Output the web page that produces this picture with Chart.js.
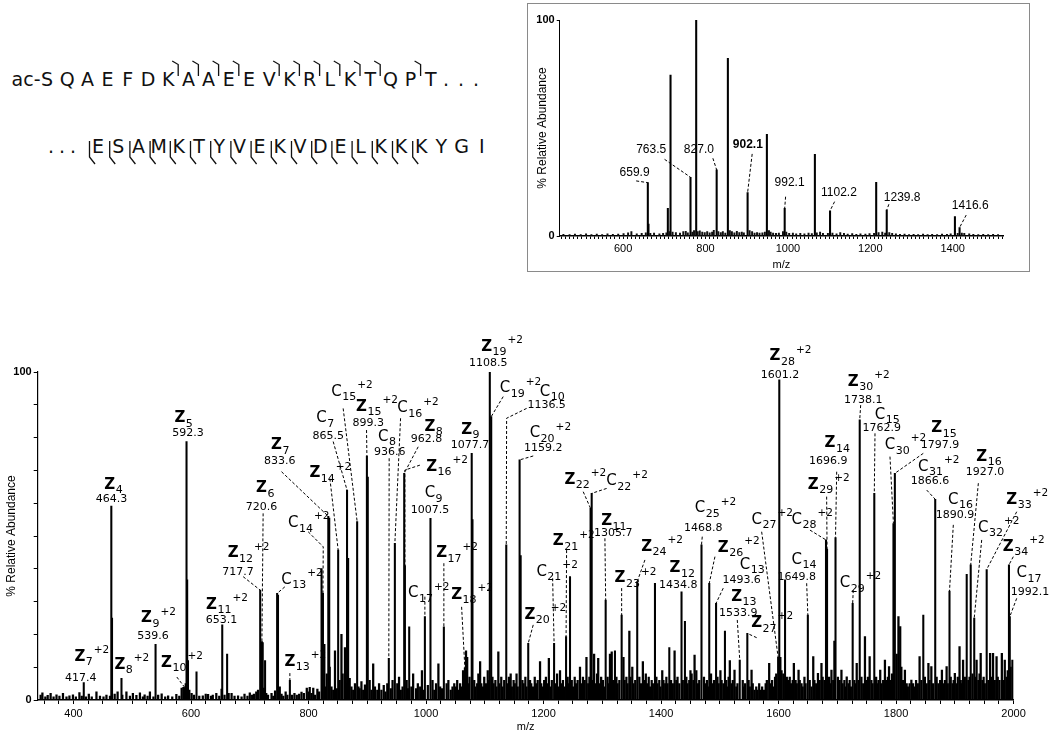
<!DOCTYPE html>
<html><head><meta charset="utf-8">
<script src="https://cdn.jsdelivr.net/npm/chart.js@4.4.1/dist/chart.umd.min.js"></script>
<style>
html,body{margin:0;padding:0;background:#fff;width:1050px;height:736px;overflow:hidden;position:relative;}
#seq{position:absolute;left:0;top:0;width:520px;height:190px;}
#insetBox{position:absolute;left:527px;top:3px;width:503px;height:269px;border:1px solid #8a8a8a;box-sizing:border-box;}
#inset{position:absolute;left:527px;top:3px;}
#main{position:absolute;left:0;top:300px;}
</style></head>
<body>
<svg id="seq" xmlns="http://www.w3.org/2000/svg" width="520" height="190"></svg>
<div id="insetBox"></div>
<canvas id="inset" width="503" height="269"></canvas>
<canvas id="main" width="1050" height="436"></canvas>
<script>
// ---------------- sequence ----------------
const seqLine1 = ['S','Q','A','E','F','D','K','A','A','E','E','V','K','R','L','K','T','Q','P','T'];
const seqLine2 = ['E','S','A','M','K','T','Y','V','E','K','V','D','E','L','K','K','K','Y','G','I'];
const cMarksBefore = [7,8,9,10,12,13,14,15,16,17,19];
const zMarksBefore = [0,1,2,3,4,5,6,7,8,9,10,11,12,13,14,15,16];

// ---------------- inset spectrum ----------------
const insetTickLabels = [600,800,1000,1200,1400];
const mzInset  = [659.9,661.5,708.5,715,763.5,777.3,827,854.2,902.1,948.9,992.1,1065.4,1102.2,1214.2,1239.8,1405.3,1416.6];
const intInset = [24.7,5.5,12.8,74.5,27.2,100,30.6,82.3,20.1,47.1,12.8,37.8,11.7,24.8,12,9,3.9];
const insetNoise = [[455,0.8],[470,0.6],[483,0.9],[497,0.7],[510,1],[523,0.6],[536,0.9],[549,0.7],[562,1],[575,0.8],[588,0.9],[601,1.1],[612,1.5],[620,2],[633,1],[645,1.2],[655,1.5],[666,1.2],[675,1.4],[688,1],[697,1.2],[705,1.5],[712,2],[720,1.8],[728,1.6],[738,1.4],[746,2],[752,2.2],[757,1.5],[768,1.8],[772,2.5],[781,2],[786,2.4],[792,1.8],[798,1.6],[804,2],[810,1.5],[816,1.8],[820,2.6],[831,2],[837,1.6],[842,2],[848,1.4],[859,2.5],[864,2],[870,1.5],[876,2.2],[882,1.6],[888,1.8],[893,1.5],[907,2.5],[913,2],[919,1.4],[925,1.6],[931,1.4],[938,1.5],[944,1.8],[954,2.5],[958,1.8],[964,1.4],[971,1.2],[978,1.4],[988,2],[996,1.8],[1003,1.2],[1012,1.4],[1020,1],[1030,1.2],[1040,1],[1050,1.3],[1058,1.1],[1070,1.5],[1078,1.8],[1085,1.2],[1097,1.2],[1108,1.4],[1118,1],[1127,1.6],[1136,1.2],[1145,0.9],[1156,1.1],[1166,0.8],[1176,1],[1188,0.9],[1198,1.1],[1209,1.2],[1220,1.6],[1229,1.8],[1236,1.4],[1246,1.6],[1253,1.2],[1262,1],[1272,0.8],[1283,0.9],[1294,0.7],[1305,0.8],[1316,0.7],[1328,0.9],[1339,0.7],[1350,0.8],[1362,0.7],[1374,0.9],[1386,0.8],[1395,1],[1412,1.2],[1422,1.4],[1428,1.2],[1440,1],[1450,0.8],[1462,0.7],[1474,0.8],[1486,0.7],[1498,0.8],[1510,0.6]];
const insetLabels = [
 {v:'659.9', n:[627.7,29.3], l:[[631.6,25.5]], p:659.9},
 {v:'763.5', n:[668,40.1], l:[[700.5,35.5]], p:763.5},
 {v:'827.0', n:[783.8,40.1], l:[[817.8,36]], p:827},
 {v:'902.1', n:[902.7,42.1], l:[[913.2,38]], p:902.1, bold:true},
 {v:'992.1', n:[1004,24.7], l:[[994.3,18.2]], p:992.1},
 {v:'1102.2', n:[1123.7,20], l:[[1113.2,15.9]], p:1102.2},
 {v:'1239.8', n:[1277.3,17.9], l:[[1245,14.7]], p:1239.8},
 {v:'1416.6', n:[1442.4,14], l:[[1432.7,9.7]], p:1416.6}
];

// ---------------- main spectrum ----------------
const xTickLabels = [400,600,800,1000,1200,1400,1600,1800,2000];
const yTickLabels = [0,100];
const mzMain = [417.4,464.3,465.5,481.6,539.6,589.4,592.3,593.4,594.8,609.3,653.1,661.4,717.7,720.6,722,726,746.5,748,768.2,822.1,824.5,827,833.6,835.2,850.4,865.5,867.4,882.7,899.3,900.8,936.6,946.9,962.8,964,971.3,998,1007.5,1030.3,1066,1077.7,1079,1108.5,1110.9,1136.5,1159.2,1161,1173.9,1217.9,1238.3,1245,1280,1281.9,1305.7,1321.5,1332.9,1359.4,1389.6,1414,1434.8,1440.6,1468.8,1482,1493.6,1508.7,1533.9,1546.8,1599.2,1601.2,1611,1649.8,1680.7,1682.5,1696.9,1726.1,1738.1,1762.9,1795.5,1797.9,1846.3,1866.6,1890.9,1920.2,1927,1933,1954.2,1992.1,1993.5];
const intMain = [5.3,59.1,25,6.6,17,3.8,78.8,36.6,12,8.6,22.9,14,33.5,17.8,17.5,12,32.5,32,6,40.1,32.5,17,56,55.5,45.7,64,43.2,54.4,74.4,68,12.7,47.8,69.1,41,22.3,25.4,55.4,22.3,9.8,75.2,55,100,86.4,47.3,73.2,44,17.3,17.3,19.3,37.6,58.4,63,30.5,15,25.9,36.1,35.6,16,33,24,47.3,35.6,29.5,21,12.2,20.3,13,97.6,36.6,25.9,48.8,46,49.5,29.5,85.4,63,53.8,69.1,25.9,61.2,33.2,38.3,41.2,25,39.8,41.2,25.4];
const noisePeaks = [[344,1.5],[347,2.2],[352,1],[356,1.4],[361,2],[366,1],[371,1.6],[376,1.2],[382,2],[388,1],[393,1.3],[399,1.6],[404,1],[410,2.3],[414,1.2],[421,1],[426,1.8],[431,1],[439,2.5],[445,1.2],[451,1],[456,1.5],[462,1.2],[470,1.8],[475,2.5],[483,1.5],[490,2.5],[496,1.2],[501,2],[507,1.4],[513,2.2],[518,1],[521,1.6],[526,1.2],[530,2.5],[536,1],[544,1.5],[550,1.9],[556,1],[561,1.3],[568,1],[575,1.7],[580,1.2],[584,3.6],[587,3.9],[591,5],[597,3],[601,2],[605,1.5],[614,1.2],[620,1.3],[625,1.8],[629,1.7],[634,1.2],[637,1.5],[643,2],[648,1.2],[652,3.3],[657,1.5],[664,2],[669,2],[674,1.2],[680,1.3],[686,1],[691,1.8],[696,1.2],[700,2.2],[704,1.5],[707,1.8],[711,2.5],[714,3],
[724,3.6],[728,2],[731,1.5],[737,2],[740,1.2],[743,2.8],[751,4],[754,1.8],[757,1.2],[761,2.5],[764,1.5],[772,1.5],[776,2],[780,1.5],[784,1.8],[788,2.4],[792,2],[797,3.6],[800,2.5],[802,3.9],[805,2],[808,3.6],[811,1.5],[815,3.3],[818,2.5],[829,4],[831,8],[836,10],[839,4],[842,3],[845,15],[848,3.5],[853,6],[856,20],[858,8],[862,16],[864,5],[870,6.6],[873,4],[876,3],[879,5],[885,4],[887,3.5],[890,5.6],[893,3],[896,4.6],[904,6],[907,3],[910,11],[913,4],[917,3],[920,5],[924,3],[928,4.5],[931,2.5],[934,5],[940,3.5],[943,6],[951,5],[954,7],[957,3],[960,4],[967,6],[969,3.5],[975,4],[978,8],[983,3.5],[986,5],[990,4],[993,9],[996,3],[1003,4.5],[1011,6],[1014,3],[1017,5],[1021,11],[1024,4],[1027,3.5],[1035,5],[1038,6],[1042,3],[1045,4],[1048,5],
[1051,4],[1053,6],[1056,3],[1058,5],[1061,4],[1063,9],[1068,15],[1070,13],[1072,5],[1074,7],[1082,6],[1084,4],[1087,5],[1089,8],[1092,11.7],[1094,5],[1097,4],[1099,7],[1102,5],[1105,9],[1107,6],[1113,7],[1115,5],[1118,6],[1120,4],[1123,14.7],[1125,5],[1128,7],[1130,4],[1133,6],[1139,5],[1141,7],[1144,8],[1146,4],[1149,6],[1151,5],[1154,8],[1156,4],[1164,6],[1166,5],[1169,7],[1171,4],[1177,6],[1179,5],[1182,4],[1185,7],[1187,5],[1190,6],[1194,11.7],[1196,5],[1199,4],[1201,6],[1204,7],[1206,5],[1209,12.7],[1212,4],[1214,6],[1221,5],[1223,8],[1226,4],[1228,9],[1231,5],[1233,6],[1236,4],[1241,7],[1243,5],[1248,6],[1250,4],[1253,7],[1255,5],[1258,6],[1262,10],[1265,5],[1267,7],[1270,6],[1273,13],[1276,5],[1278,7],[1284,6],[1286,14],[1289,5],[1291,8],[1293,12.7],[1296,5],[1298,7],[1301,6],[1303,4],[1309,7],[1311,5],[1313,14],[1316,14.7],[1318,6],[1324,7],[1326,5],[1329,6],[1336,13],[1338,6],[1341,7],[1343,5],[1346,21],[1348,7],[1351,10],[1353,5],[1356,6],[1363,7],[1366,5],[1369,11.7],[1371,6],[1374,8],[1376,5],[1379,7],[1381,4],[1384,6],[1386,5],[1392,7],[1394,5],[1397,6],[1399,4],[1402,9],[1404,6],[1407,5],[1409,7],[1411,5],[1417,6],[1420,5],[1423,15],[1426,6],[1428,7],[1431,5],[1437,6],[1443,7],[1445,5],[1448,6],[1450,9],[1452,8],[1455,6],[1457,13.7],[1460,9],[1463,5],[1465,6],[1473,7],[1475,5],[1478,6],[1480,4],[1485,8],[1487,5],[1490,6],[1496,7],[1498,5],[1501,9],[1503,6],[1506,5],[1511,6],[1513,4],[1515,7],[1517,12],[1520,5],[1522,6],[1525,9.1],[1528,4],[1530,5],[1539,6],[1541,4],[1543,5],[1549,6],[1551,4],[1554,9.1],[1556,5],[1559,3],[1562,4],[1564,3],[1567,5],[1570,3],[1572,4],[1575,3],[1578,5],[1580,6],[1584,11.2],[1586,5],[1589,6],[1591,4],[1594,7],[1596,8],[1603,13],[1605,9],[1608,8],[1614,7],[1616,6],[1619,7],[1621,5],[1624,6],[1626,11.2],[1629,6],[1631,5],[1634,9.1],[1636,6],[1639,5],[1641,4],[1644,7],[1646,5],[1653,6],[1656,4],[1659,13.2],[1661,6],[1664,5],[1667,8.1],[1670,6],[1673,11.2],[1675,7],[1678,6],[1686,7],[1688,5],[1690,9.1],[1693,6],[1695,18],[1701,7],[1704,6],[1707,9.1],[1709,5],[1712,6],[1714,4],[1716,7.1],[1719,5],[1721,6],[1723,4],[1729,6],[1731,5],[1733,11.2],[1736,6],[1741,7],[1744,5],[1747,19.3],[1749,6],[1752,7],[1755,13.2],[1758,6],[1760,5],[1766,7],[1768,5],[1770,6],[1773,9.1],[1775,5],[1778,6],[1781,12.2],[1783,6],[1786,7],[1788,10.2],[1791,6],[1793,8],[1801,14],[1804,25.4],[1807,22.4],[1809,10],[1812,6],[1815,9.1],[1818,5],[1820,4],[1823,5],[1826,6.1],[1829,5],[1831,4],[1834,6],[1837,5],[1840,13.2],[1843,6],[1849,7],[1852,5],[1855,11.2],[1857,6],[1860,10.2],[1863,5],[1869,7],[1872,5],[1875,6],[1878,9.1],[1880,5],[1883,6],[1886,10.2],[1888,5],[1893,7],[1896,5],[1898,6],[1900,8.1],[1903,5],[1905,7],[1908,16.3],[1910,6],[1912,5],[1914,12.2],[1917,7],[1923,6],[1925,7],[1930,8],[1935,7],[1937,12.2],[1940,6],[1942,8],[1944,14.2],[1947,6],[1949,7],[1951,5],[1957,6],[1960,14.2],[1962,7],[1965,14.2],[1968,6],[1971,13.2],[1973,7],[1976,6],[1980,14.2],[1982,6],[1985,12.2],[1988,7],[1990,9],[1995,10],[1998,12.2]];

const mainLabels = [
 {t:'Z',s:'7',c:'+2',v:'417.4',a:[410.7,13.1],n:[412.4,6.7]},
 {t:'Z',s:'8',c:'+2',a:[478.8,10.7]},
 {t:'Z',s:'9',c:'+2',v:'539.6',a:[524.2,24.9],n:[535.4,19.5]},
 {t:'Z',s:'10',c:'+2',a:[558.3,11.3],l:[[575.8,7.0]],p:589.4},
 {t:'Z',s:'5',v:'592.3',a:[580.9,85.9],n:[595,81.3]},
 {t:'Z',s:'4',v:'464.3',a:[461.7,65.6],n:[464.6,61.2]},
 {t:'Z',s:'11',c:'+2',v:'653.1',a:[634.9,29],n:[651.9,24.4]},
 {t:'Z',s:'12',c:'+2',v:'717.7',a:[671.6,44.7],n:[680.1,39.1],l:[[688.7,37.6]],p:717.7},
 {t:'Z',s:'6',v:'720.6',a:[720,64.5],n:[720,58.9],l:[[722.7,56.9]],p:720.6},
 {t:'C',s:'13',c:'+2',a:[762.5,36.6],l:[[759.6,34.5]],p:746.5},
 {t:'Z',s:'13',c:'+2',a:[768.2,11.7],l:[[768.2,8.2]],p:768.2},
 {t:'Z',s:'7',v:'833.6',a:[745.5,77.7],n:[751.1,72.7],l:[[754,69.6]],p:833.6},
 {t:'C',s:'14',c:'+2',a:[773.8,53.9],l:[[799.3,51.3],[825,46.7]],p:824.5},
 {t:'Z',s:'14',c:'+2',a:[810.7,69.1],l:[[836.3,67.5]],p:850.4},
 {t:'C',s:'7',v:'865.5',a:[822.1,85.9],n:[833.4,80.5],l:[[841.9,78.8]],p:865.5},
 {t:'C',s:'15',c:'+2',a:[847.7,94],l:[[858.9,88.9]],p:882.7},
 {t:'Z',s:'15',c:'+2',v:'899.3',a:[890.2,89.4],n:[901.5,84.4],l:[[898.7,82.3]],p:899.3},
 {t:'C',s:'8',v:'936.6',a:[927,80.3],n:[938.4,75.7],l:[[937.2,73.7]],p:936.6},
 {t:'C',s:'16',c:'+2',a:[960,88.9],l:[[956.6,85.9]],p:946.9},
 {t:'Z',s:'8',v:'962.8',a:[1006.5,83.3],n:[1000.9,79.5],l:[[986.6,77.2]],p:962.8},
 {t:'Z',s:'16',c:'+2',a:[1009.4,71.1],l:[[989.5,71.6],[963.9,70.1]],p:964},
 {t:'Z',s:'9',v:'1077.7',a:[1069,82.3],n:[1074.6,77.7]},
 {t:'C',s:'9',v:'1007.5',a:[1006.5,63],n:[1006.5,57.9]},
 {t:'Z',s:'19',c:'+2',v:'1108.5',a:[1103,107.7],n:[1105.7,102.7]},
 {t:'C',s:'19',c:'+2',a:[1134.2,95],l:[[1131.3,92.5]],p:1110.9},
 {t:'C',s:'10',v:'1136.5',a:[1202.3,94],n:[1205.2,89.9],l:[[1171.1,88.9],[1137.1,85.9]],p:1136.5},
 {t:'C',s:'20',c:'+2',v:'1159.2',a:[1185.2,81.3],n:[1199.4,76.7],l:[[1182.4,74.4]],p:1159.2},
 {t:'Z',s:'22',c:'+2',a:[1244.8,67.1],l:[[1267.5,63.5]],p:1280},
 {t:'C',s:'22',c:'+2',a:[1315.8,66.6],l:[[1307.3,64.5]],p:1281.9},
 {t:'Z',s:'11',v:'1305.7',a:[1307.3,54.4],n:[1318.6,50.8],l:[[1304.4,49.3]],p:1305.7},
 {t:'Z',s:'21',c:'+2',a:[1224.9,48.3],l:[[1239.2,45.7]],p:1238.3},
 {t:'C',s:'21',c:'+2',a:[1196.7,39.1],l:[[1215.4,37.1]],p:1217.9},
 {t:'Z',s:'20',c:'+2',a:[1176.7,25.9],l:[[1182.4,22.9]],p:1173.9},
 {t:'Z',s:'17',c:'+2',a:[1026.4,44.7],l:[[1030.3,41.7]],p:1030.3},
 {t:'C',s:'17',c:'+2',a:[978.1,32.5],l:[[998,31.5]],p:998},
 {t:'Z',s:'18',c:'+2',a:[1052,32],l:[[1060.5,28.4]],p:1066},
 {t:'Z',s:'23',c:'+2',a:[1330,37.1],l:[[1332.9,34.1]],p:1332.9},
 {t:'Z',s:'24',c:'+2',a:[1375.4,46.7],l:[[1372.5,42.7]],p:1359.4},
 {t:'Z',s:'12',v:'1434.8',a:[1423.6,40.2],n:[1429.2,35.1]},
 {t:'C',s:'25',c:'+2',v:'1468.8',a:[1466.1,58.4],n:[1471.8,52.4],l:[[1470.1,49.8]],p:1468.8},
 {t:'Z',s:'26',c:'+2',a:[1505.8,46.3],l:[[1491.7,43.7]],p:1482},
 {t:'C',s:'13',v:'1493.6',a:[1542.8,41.2],n:[1537.1,36.6],l:[[1505.8,34.1]],p:1493.6},
 {t:'Z',s:'13',v:'1533.9',a:[1528.6,31.5],n:[1531.4,26.4],l:[[1529.7,24.4]],p:1533.9},
 {t:'Z',s:'27',c:'+2',a:[1562.7,23.4],l:[[1562.7,19]],p:1546.8},
 {t:'C',s:'27',c:'+2',a:[1562.7,54.9],l:[[1571.2,51.3]],p:1599.2},
 {t:'Z',s:'28',c:'+2',v:'1601.2',a:[1593.8,104.7],n:[1602.3,99.1]},
 {t:'C',s:'14',v:'1649.8',a:[1630.8,42.7],n:[1630.8,37.6],l:[[1647.8,35.6]],p:1649.8},
 {t:'C',s:'28',c:'+2',a:[1630.8,54.9],l:[[1653.4,51.8]],p:1680.7},
 {t:'Z',s:'29',c:'+2',a:[1659,65.6],l:[[1681.8,62]],p:1682.5},
 {t:'Z',s:'14',v:'1696.9',a:[1687.5,78.3],n:[1684.6,72.7],l:[[1698.9,69.6]],p:1696.9},
 {t:'C',s:'29',c:'+2',a:[1713,35.6],l:[[1727.1,33.5]],p:1726.1},
 {t:'Z',s:'30',c:'+2',v:'1738.1',a:[1727.1,97],n:[1744.1,91.5],l:[[1739.7,89.9]],p:1738.1},
 {t:'C',s:'15',v:'1762.9',a:[1772.6,86.9],n:[1775.5,82.8],l:[[1764.1,81.3]],p:1762.9},
 {t:'C',s:'30',c:'+2',a:[1789.6,77.7],l:[[1789.6,74.2]],p:1795.5},
 {t:'Z',s:'15',v:'1797.9',a:[1869.1,82.8],n:[1874.7,77.7],l:[[1846.3,75.2]],p:1797.9},
 {t:'C',s:'31',c:'+2',v:'1866.6',a:[1846.3,71.1],n:[1857.7,66.6],l:[[1852.1,64]],p:1866.6},
 {t:'C',s:'16',v:'1890.9',a:[1897.4,61],n:[1900.2,56.4],l:[[1897.4,53.4]],p:1890.9},
 {t:'Z',s:'16',v:'1927.0',a:[1945.7,74.2],n:[1951.3,69.6],l:[[1940,66.1]],p:1927},
 {t:'C',s:'32',c:'+2',a:[1948.4,52.4],l:[[1945.7,48.8]],p:1933},
 {t:'Z',s:'33',c:'+2',a:[1996.8,61],l:[[2005.3,57.4]],p:1954.2},
 {t:'Z',s:'34',c:'+2',a:[1991,46.7],l:[[1999.5,43.7]],p:1992.1},
 {t:'C',s:'17',v:'1992.1',a:[2013.8,38.6],n:[2027.9,33],l:[[2005.3,31]],p:1993.5}
];

// ---------------- build sequence (SVG text) ----------------
(function(){
  const svg = document.getElementById('seq');
  const NS = 'http://www.w3.org/2000/svg';
  const pitch = 20.2;
  function txt(s, x, y, anchor){
    const t = document.createElementNS(NS,'text');
    t.setAttribute('x', x); t.setAttribute('y', y);
    t.setAttribute('text-anchor', anchor || 'middle');
    t.setAttribute('font-family','DejaVu Sans, Verdana, sans-serif');
    t.setAttribute('font-size','19');
    t.setAttribute('fill','#111');
    t.textContent = s; svg.appendChild(t);
  }
  function path(d){
    const p = document.createElementNS(NS,'path');
    p.setAttribute('d', d); p.setAttribute('fill','none');
    p.setAttribute('stroke','#111'); p.setAttribute('stroke-width','1.3');
    svg.appendChild(p);
  }
  const x1 = 47, b1 = 86, x2 = 98, b2 = 153;
  txt('ac-', 40.5, b1, 'end');
  seqLine1.forEach((r,i)=>txt(r, x1 + i*pitch, b1));
  [446,461,476].forEach(x=>txt('.', x, b1));
  cMarksBefore.forEach(i=>{
    const x = x1 + i*pitch - 10.2;
    path(`M${x-6} 61 L${x} 64.5 L${x} 76`);
  });
  [51,62,73].forEach(x=>txt('.', x, b2));
  seqLine2.forEach((r,i)=>txt(r, x2 + i*pitch, b2));
  zMarksBefore.forEach(i=>{
    const x = x2 + i*pitch - 8.5;
    path(`M${x} 141 L${x} 157 L${x+5.5} 164`);
  });
})();

// ---------------- label plugin factory ----------------
function makeLabelPlugin(id, list, mzArr, intArr, style){
  return {
    id: id,
    afterDatasetsDraw(chart){
      const ctx = chart.ctx, xs = chart.scales.x, ys = chart.scales.y;
      const X = v => xs.getPixelForValue(v), Y = v => ys.getPixelForValue(v);
      ctx.save();
      list.forEach(a=>{
        if (a.l){
          const k = mzArr.indexOf(a.p);
          const pts = a.l.map(q=>[X(q[0]), Y(q[1])]);
          pts.push([X(a.p), Y(intArr[k])]);
          ctx.setLineDash([3,2]); ctx.lineWidth = 1; ctx.strokeStyle = '#000';
          ctx.beginPath();
          pts.forEach((p,j)=> j ? ctx.lineTo(p[0],p[1]) : ctx.moveTo(p[0],p[1]));
          ctx.stroke();
          ctx.setLineDash([]);
        }
        ctx.fillStyle = '#000';
        ctx.textBaseline = 'middle';
        if (a.t){
          const x = X(a.a[0]), y = Y(a.a[1]);
          ctx.textAlign = 'center';
          ctx.font = (a.t === 'Z' ? 'bold ' : '') + '15px "DejaVu Sans"';
          const w = ctx.measureText(a.t).width;
          ctx.fillText(a.t, x, y);
          ctx.textAlign = 'left';
          ctx.font = '11px "DejaVu Sans"';
          ctx.fillText(a.s, x + w/2 + 0.5, y + 5.5);
          const sw = ctx.measureText(a.s).width;
          if (a.c){
            ctx.font = '10.5px "DejaVu Sans"';
            ctx.fillText(a.c, x + w/2 + sw + 1.5, y - 6.5);
          }
        }
        if (a.v){
          ctx.textAlign = 'center';
          ctx.font = (a.bold ? 'bold ' : '') + style.numFont;
          ctx.fillText(a.v, X(a.n[0]), Y(a.n[1]));
        }
      });
      ctx.restore();
    }
  };
}

const axisFont = {family:'Liberation Sans', size:11};

// ---------------- inset chart ----------------
new Chart(document.getElementById('inset'), {
  type:'bar',
  data:{datasets:[
    {data: insetNoise.map(p=>({x:p[0],y:p[1]})), backgroundColor:'#111', barThickness:1.3, grouped:false},
    {data: mzInset.map((m,i)=>({x:m,y:intInset[i]})), backgroundColor:'#000', barThickness:1.4, grouped:false}
  ]},
  options:{
    responsive:false, animation:false, events:[],
    layout:{padding:{top:17,right:27,left:0,bottom:0}},
    plugins:{legend:{display:false},tooltip:{enabled:false}},
    scales:{
      x:{type:'linear', min:446, max:1522, offset:false,
        afterBuildTicks: s=>{ const t=[]; for(let v=450; v<=1520; v+=10) t.push({value:v}); s.ticks=t; },
        afterFit: s=>{ s.height = 36; },
        grid:{drawOnChartArea:false, drawTicks:true, tickLength:3, color:'#000', offset:false},
        border:{color:'#000', width:1.5},
        ticks:{autoSkip:false, maxRotation:0, padding:3, color:'#000', font:{family:'Liberation Sans', size:11},
          callback: v => insetTickLabels.includes(v) ? String(v) : ''},
        title:{display:true, text:'m/z', color:'#000', font:{family:'Liberation Sans', size:11}, padding:{top:0,bottom:0}}
      },
      y:{min:0, max:100,
        afterBuildTicks: s=>{ s.ticks = yTickLabels.map(v=>({value:v})); },
        afterFit: s=>{ s.width = 32.7; },
        grid:{drawOnChartArea:false, drawTicks:true, tickLength:3, color:'#000'},
        border:{color:'#000', width:1},
        ticks:{padding:2, color:'#000', font:{family:'Liberation Sans', size:11, weight:'bold'}},
        title:{display:true, text:'% Relative Abundance', color:'#000', font:{family:'Liberation Sans', size:12}, padding:{top:8,bottom:0}}
      }
    }
  },
  plugins:[makeLabelPlugin('insetLabels', insetLabels, mzInset, intInset, {numFont:'12px "Liberation Sans"'})]
});

// ---------------- main chart ----------------
new Chart(document.getElementById('main'), {
  type:'bar',
  data:{datasets:[
    {data: noisePeaks.map(p=>({x:p[0],y:p[1]})), backgroundColor:'#000', barThickness:1.6, grouped:false},
    {data: mzMain.map((m,i)=>({x:m,y:intMain[i]})), backgroundColor:'#000', barThickness:1.4, grouped:false}
  ]},
  options:{
    responsive:false, animation:false, events:[],
    layout:{padding:{top:72,right:36.4,left:0,bottom:0}},
    plugins:{legend:{display:false},tooltip:{enabled:false}},
    scales:{
      x:{type:'linear', min:339, max:2000, offset:false,
        afterBuildTicks: s=>{ const t=[]; for(let v=350; v<=2000; v+=25) t.push({value:v}); s.ticks=t; },
        afterFit: s=>{ s.height = 36; },
        grid:{drawOnChartArea:false, drawTicks:true, tickLength:4, color:'#000', offset:false},
        border:{color:'#000', width:1.5},
        ticks:{autoSkip:false, maxRotation:0, padding:3, color:'#000', font:axisFont,
          callback: v => xTickLabels.includes(v) ? String(v) : ''},
        title:{display:true, text:'m/z', color:'#000', font:axisFont, padding:{top:0,bottom:2}}
      },
      y:{min:0, max:100,
        afterBuildTicks: s=>{ const t=[]; for(let v=0; v<=100; v+=10) t.push({value:v}); s.ticks=t; },
        afterFit: s=>{ s.width = 37.7; },
        grid:{drawOnChartArea:false, drawTicks:true, tickLength:4, color:'#000'},
        border:{color:'#000', width:1.2},
        ticks:{padding:2, color:'#000', font:{family:'Liberation Sans', size:11, weight:'bold'},
          callback: v => yTickLabels.includes(v) ? String(v) : ''},
        title:{display:true, text:'% Relative Abundance', color:'#000', font:{family:'Liberation Sans', size:12}, padding:{top:4,bottom:0}}
      }
    }
  },
  plugins:[makeLabelPlugin('mainLabels', mainLabels, mzMain, intMain, {numFont:'11px "DejaVu Sans"'})]
});
</script>
</body></html>
